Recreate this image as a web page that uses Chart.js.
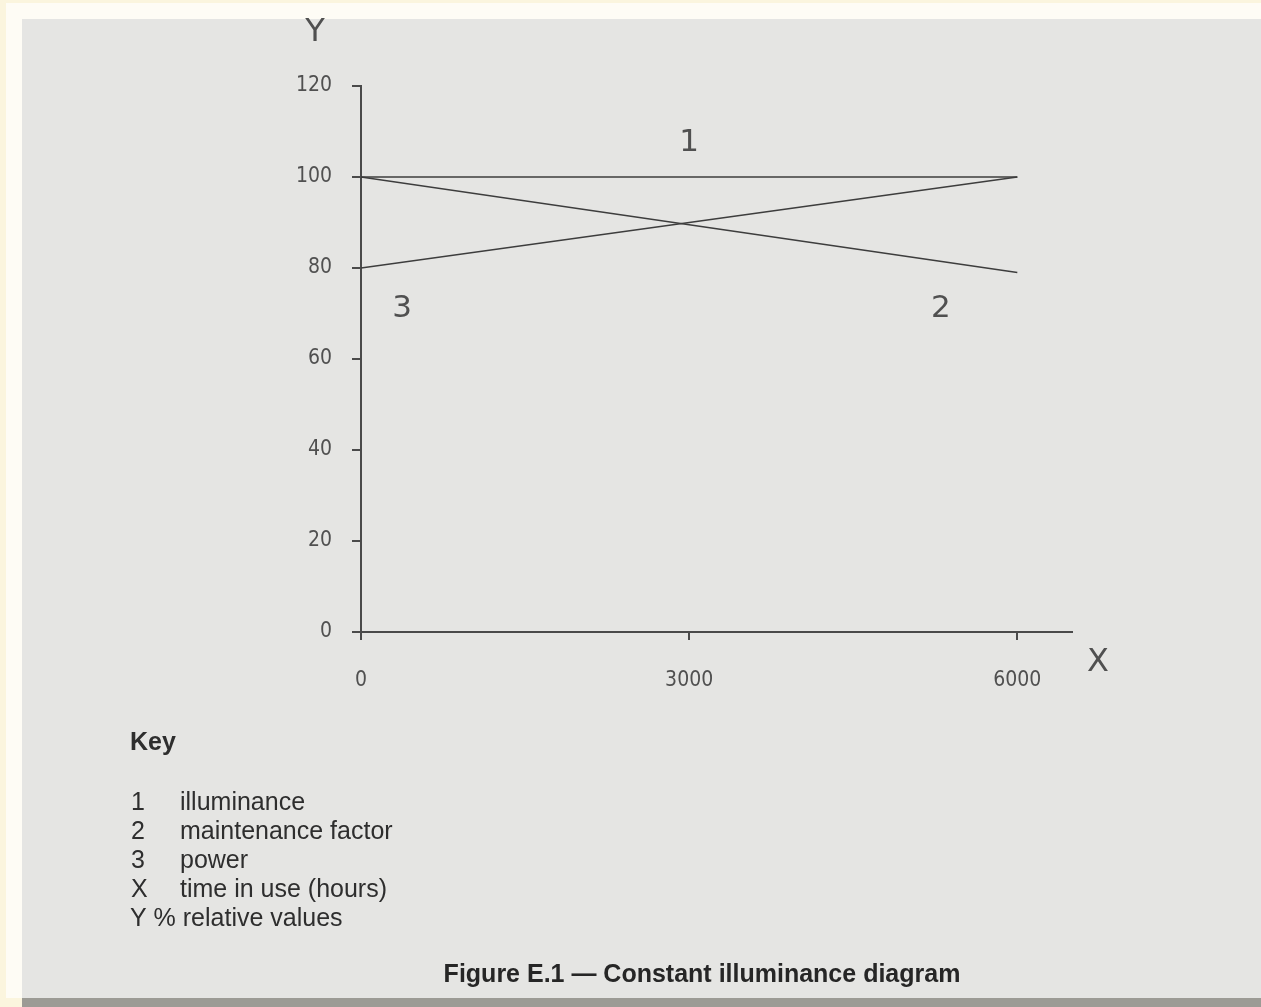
<!DOCTYPE html>
<html>
<head>
<meta charset="utf-8">
<title>Figure E.1 — Constant illuminance diagram</title>
<script src="https://cdn.jsdelivr.net/npm/chart.js@4/dist/chart.umd.min.js"></script>
<style>
  html, body { margin: 0; padding: 0; background: #fbf5de; }
  #wrap { position: relative; width: 1261px; height: 1007px; }
  canvas { display: block; }
</style>
</head>
<body>
<div id="wrap"><canvas id="chart" width="1261" height="1007"></canvas></div>
<script>
// Time in use (hours) and relative values (%)
const hours = [0, 6000];
const illuminance = [100, 100];
const maintenanceFactor = [100, 79];
const power = [80, 100];

const xTickValues = [0, 3000, 6000];
const yTickValues = [0, 20, 40, 60, 80, 100, 120];

const curveNumbers = ['1', '2', '3'];
const keyItems = [
  ['1', 'illuminance'],
  ['2', 'maintenance factor'],
  ['3', 'power'],
  ['X', 'time in use (hours)']
];
const keyLastLine = 'Y % relative values';
const captionText = 'Figure E.1 \u2014 Constant illuminance diagram';

const toPoints = ys => hours.map((h, i) => ({ x: h, y: ys[i] }));

const lineColor = '#3d3d3d';
const axisColor = '#4a4a4a';
const tickFont = { family: '"DejaVu Sans Condensed", "DejaVu Sans", sans-serif', size: 21 };

// Where each curve number sits, in data units
const curveNumberAt = [
  { x: 3000, y: 107.5 },
  { x: 5300, y: 71 },
  { x: 375, y: 71 }
];

const decor = {
  id: 'decor',
  beforeDraw(chart) {
    const c = chart.ctx;
    c.save();
    c.fillStyle = '#fbf5de';
    c.fillRect(0, 0, 1261, 1007);
    c.fillStyle = '#fefcf5';
    c.fillRect(6, 3, 1255, 995);
    c.fillStyle = '#e5e5e3';
    c.fillRect(22, 19, 1239, 979);
    c.fillStyle = '#9c9b95';
    c.fillRect(22, 998, 1239, 9);
    c.restore();
  },
  afterDraw(chart) {
    const c = chart.ctx;
    const xs = chart.scales.x, ys = chart.scales.y;
    c.save();
    c.fillStyle = '#505050';
    c.textAlign = 'center';
    c.textBaseline = 'middle';
    c.font = '31px "DejaVu Sans", sans-serif';
    curveNumbers.forEach((t, i) => {
      c.fillText(t, xs.getPixelForValue(curveNumberAt[i].x), ys.getPixelForValue(curveNumberAt[i].y));
    });
    // axis letters
    c.font = '32px "DejaVu Sans", sans-serif';
    c.fillText('Y', 315, 33);
    c.fillText('X', 1098, 663);

    // key
    c.fillStyle = '#2e2e2e';
    c.textAlign = 'left';
    c.textBaseline = 'alphabetic';
    c.font = 'bold 25px "Liberation Sans", Arial, sans-serif';
    c.fillText('Key', 130, 750);
    c.font = '25px "Liberation Sans", Arial, sans-serif';
    keyItems.forEach((row, i) => {
      const y = 810 + i * 29;
      c.fillText(row[0], 131, y);
      c.fillText(row[1], 180, y);
    });
    c.fillText(keyLastLine, 130, 810 + 4 * 29);

    // caption
    c.fillStyle = '#262626';
    c.textAlign = 'center';
    c.font = 'bold 25px "Liberation Sans", Arial, sans-serif';
    c.fillText(captionText, 702, 982);
    c.restore();
  }
};

new Chart(document.getElementById('chart'), {
  type: 'line',
  data: {
    datasets: [
      { label: 'illuminance', data: toPoints(illuminance) },
      { label: 'maintenance factor', data: toPoints(maintenanceFactor) },
      { label: 'power', data: toPoints(power) }
    ].map(d => Object.assign(d, {
      borderColor: lineColor,
      borderWidth: 1.6,
      pointRadius: 0,
      fill: false,
      tension: 0
    }))
  },
  options: {
    responsive: false,
    animation: false,
    events: [],
    layout: { padding: { left: 0, top: 86, right: 189, bottom: 295 } },
    plugins: { legend: { display: false }, tooltip: { enabled: false } },
    scales: {
      x: {
        type: 'linear',
        min: 0,
        max: 6500,
        afterBuildTicks: s => { s.ticks = xTickValues.map(v => ({ value: v })); },
        afterFit: s => { s.height = 80; },
        border: { display: true, color: axisColor, width: 2 },
        grid: { drawOnChartArea: false, drawTicks: true, tickLength: 8, color: axisColor, lineWidth: 2 },
        ticks: { color: '#505050', font: tickFont, padding: 28, maxRotation: 0, autoSkip: false,
                 callback: v => String(v) }
      },
      y: {
        type: 'linear',
        min: 0,
        max: 120,
        afterBuildTicks: s => { s.ticks = yTickValues.map(v => ({ value: v })); },
        afterFit: s => { s.width = 361; },
        border: { display: true, color: axisColor, width: 2 },
        grid: { drawOnChartArea: false, drawTicks: true, tickLength: 9, color: axisColor, lineWidth: 2 },
        ticks: { color: '#505050', font: tickFont, padding: 20, callback: v => String(v) }
      }
    }
  },
  plugins: [decor]
});
</script>
</body>
</html>
